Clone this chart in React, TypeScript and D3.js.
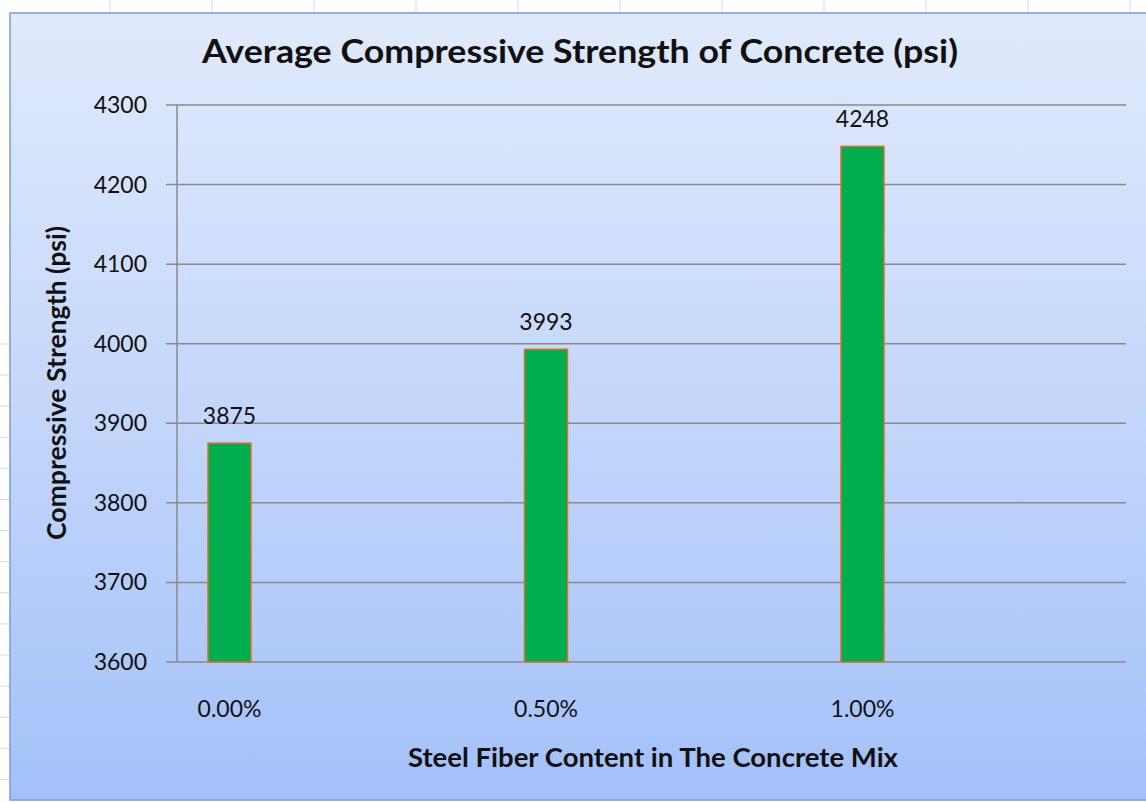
import React from "react";
import * as d3 from "d3";

// Chart data
const categories = ["0.00%", "0.50%", "1.00%"];
const strength = [3875, 3993, 4248];
const yTicks = [3600, 3700, 3800, 3900, 4000, 4100, 4200, 4300];

const W = 1146;
const H = 802;

const plot = { left: 177, right: 1126, top: 105, bottom: 662 };
const barWidth = 43;
const font = "Lato, 'Open Sans', sans-serif";

export default function App() {
  const y = d3.scaleLinear().domain([3600, 4300]).range([plot.bottom, plot.top]);
  const x = d3.scalePoint<string>().domain(categories).range([229.5, 862.5]);

  // worksheet cell lines peeking out around the chart object
  const colLines = d3.range(0, 11).map((i) => 110 + i * 102);
  const rowLines = d3.range(0, 15).map((i) => 344 + i * 31.1);

  return (
    <svg
      width={W}
      height={H}
      style={{ position: "absolute", left: 0, top: 0, background: "#ffffff" }}
    >
      <defs>
        <linearGradient id="bg" x1="0" y1="0" x2="0" y2="1">
          <stop offset="0%" stopColor="#e0eafc" />
          <stop offset="50%" stopColor="#c4d7fb" />
          <stop offset="100%" stopColor="#a3c1f9" />
        </linearGradient>
      </defs>

      {colLines.map((cx, i) => (
        <line key={"c" + i} x1={cx} x2={cx} y1={0} y2={13} stroke="#d6d9de" strokeWidth={1} />
      ))}
      {rowLines.map((ry, i) => (
        <line key={"r" + i} x1={0} x2={10} y1={ry} y2={ry} stroke="#d6d9de" strokeWidth={1} />
      ))}

      {/* chart area */}
      <rect x={10} y={13} width={W} height={787} fill="url(#bg)" stroke="#7a9cd2" strokeWidth={1.5} />

      {/* title */}
      <text
        x={580}
        y={63}
        textAnchor="middle"
        fontFamily={font}
        fontWeight={700}
        fontSize={33}
        textLength={756}
        lengthAdjust="spacingAndGlyphs"
        fill="#111"
      >
        Average Compressive Strength of Concrete (psi)
      </text>

      {/* gridlines and y ticks */}
      {yTicks.map((t) => (
        <g key={t}>
          <line
            x1={166}
            x2={plot.right}
            y1={y(t)}
            y2={y(t)}
            stroke="#8a8a8a"
            strokeWidth={1.5}
          />
          <text
            x={147}
            y={y(t)}
            dy="0.35em"
            textAnchor="end"
            fontFamily={font}
            fontSize={23}
            fill="#111"
          >
            {t}
          </text>
        </g>
      ))}
      <line x1={plot.left} x2={plot.left} y1={plot.top} y2={plot.bottom} stroke="#8a8a8a" strokeWidth={1.5} />

      {/* bars */}
      {categories.map((c, i) => {
        const cx = x(c) as number;
        return (
          <g key={c}>
            <rect
              x={cx - barWidth / 2}
              y={y(strength[i])}
              width={barWidth}
              height={y(3600) - y(strength[i])}
              fill="#00ad4f"
              stroke="#e0701c"
              strokeWidth={1.5}
            />
            <text
              x={cx}
              y={y(strength[i]) - 19}
              textAnchor="middle"
              fontFamily={font}
              fontSize={23}
              fill="#111"
            >
              {strength[i]}
            </text>
            <text
              x={cx}
              y={717}
              textAnchor="middle"
              fontFamily={font}
              fontSize={23}
              fill="#111"
            >
              {c}
            </text>
          </g>
        );
      })}

      {/* axis titles */}
      <text
        x={653}
        y={767}
        textAnchor="middle"
        fontFamily={font}
        fontWeight={700}
        fontSize={26}
        textLength={490}
        lengthAdjust="spacingAndGlyphs"
        fill="#111"
      >
        Steel Fiber Content in The Concrete Mix
      </text>
      <text
        transform={`translate(66, 383) rotate(-90)`}
        textAnchor="middle"
        fontFamily={font}
        fontWeight={700}
        fontSize={26}
        textLength={314}
        lengthAdjust="spacingAndGlyphs"
        fill="#111"
      >
        Compressive Strength (psi)
      </text>
    </svg>
  );
}
